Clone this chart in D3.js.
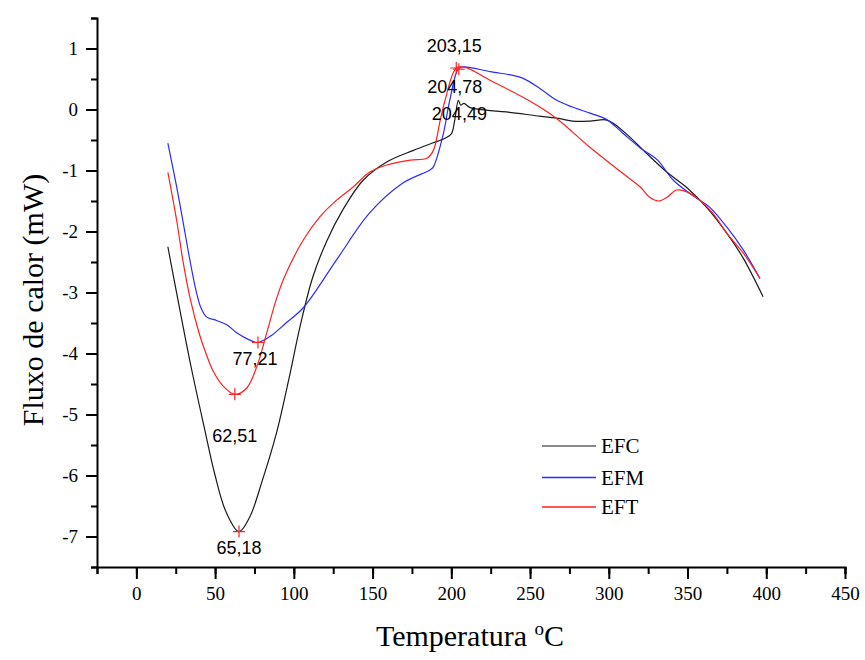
<!DOCTYPE html>
<html>
<head>
<meta charset="utf-8">
<script src="https://cdn.jsdelivr.net/npm/d3@7"></script>
<style>
  body { margin: 0; background: #fff; }
  .axis path, .axis line { stroke: #000; stroke-width: 2px; }
  .axis text { font-family: "Liberation Serif", "Times New Roman", serif; font-size: 19px; fill: #000; }
  .peak { font-family: "Liberation Sans", Arial, sans-serif; font-size: 18px; fill: #000; }
</style>
</head>
<body>
<div id="chart"></div>
<script>
// temperatures (°C) and heat flow (mW)
var efcT = [20, 27, 35, 43, 50, 57, 65.2, 72, 80, 89, 97, 104, 112, 121, 131, 144, 159, 176, 188, 196, 200, 202, 204.5, 206, 208, 212, 222, 235, 256, 269, 277, 288, 298, 303, 312, 322, 337, 350, 362, 375, 385, 398];
var efcV = [-2.25, -3.2, -4.25, -5.2, -6.0, -6.6, -6.92, -6.68, -6.08, -5.3, -4.4, -3.55, -2.75, -2.15, -1.65, -1.16, -0.86, -0.67, -0.55, -0.47, -0.4, -0.2, 0.15, 0.07, 0.1, 0.03, -0.01, -0.04, -0.11, -0.15, -0.19, -0.19, -0.17, -0.23, -0.42, -0.67, -1.03, -1.29, -1.6, -2.03, -2.42, -3.07];

var efmT = [20, 25.6, 29.5, 34, 38, 41, 44.5, 51, 57.4, 63.7, 72, 77.2, 86, 95, 106, 127, 148, 169, 186.5, 188.6, 195, 199, 204.8, 208.7, 224.6, 239, 245.6, 256, 267, 277, 288, 299, 309, 320, 331, 341, 356, 364, 375, 385.6, 396];
var efmV = [-0.55, -1.27, -1.82, -2.47, -2.98, -3.25, -3.4, -3.46, -3.53, -3.66, -3.78, -3.82, -3.7, -3.5, -3.25, -2.47, -1.7, -1.21, -0.99, -0.94, -0.39, 0.15, 0.68, 0.7, 0.62, 0.56, 0.51, 0.35, 0.15, 0.04, -0.06, -0.17, -0.39, -0.63, -0.83, -1.16, -1.46, -1.6, -1.93, -2.31, -2.77];

var eftT = [20, 25.6, 29.5, 34, 40, 44.5, 49, 55, 62.5, 70, 76.4, 82.7, 89, 95, 106, 116.5, 127, 137.7, 148, 159, 174, 184.5, 188.6, 193, 196, 203.2, 208.7, 224.6, 249, 267, 288, 309, 320, 326, 331.5, 337, 343, 349.6, 358, 366, 375, 385.6, 396];
var eftV = [-1.03, -1.82, -2.47, -3.08, -3.68, -4.02, -4.3, -4.53, -4.67, -4.57, -4.22, -3.67, -3.1, -2.69, -2.14, -1.76, -1.49, -1.27, -1.03, -0.91, -0.83, -0.8, -0.67, -0.17, 0.15, 0.68, 0.69, 0.48, 0.15, -0.15, -0.62, -1.05, -1.27, -1.44, -1.5, -1.44, -1.32, -1.35, -1.49, -1.7, -2.03, -2.36, -2.77];

var seriesNames = ["EFC", "EFM", "EFT"];
var seriesColors = ["#1a1a1a", "#2b2bff", "#ff2020"];
var legendColors = ["#8a8a8a", "#2b2bff", "#ff2020"];

// marked peaks: temperature, flow, label text
var peakT = [65.18, 62.51, 77.21, 203.15, 204.78, 204.49];
var peakV = [-6.92, -4.67, -3.82, 0.68, 0.66, 0.15];
var peakText = ["65,18", "62,51", "77,21", "203,15", "204,78", "204,49"];
var peakMarked = [true, true, true, true, true, false];

var xTicks = d3.range(0, 451, 50);
var yTicks = d3.range(-7, 2, 1);

var width = 865, height = 660;
var margins = {top: 18, left: 97, right: 20, bottom: 93};

var x = d3.scaleLinear().domain([-25, 450]).range([margins.left, width - margins.right]);
var y = d3.scaleLinear().domain([-7.5, 1.5]).range([height - margins.bottom, margins.top]);

var plainNum = function (d) { return String(d); };   // hyphen minus like the original

var svg = d3.select("#chart").append("svg")
    .attr("width", width)
    .attr("height", height);

// minor ticks first, majors over them
svg.append("g")
    .attr("class", "axis")
    .attr("transform", "translate(0," + y(-7.5) + ")")
    .call(d3.axisBottom(x).tickValues(d3.range(-25, 451, 25)).tickSize(7).tickFormat(""));
svg.append("g")
    .attr("class", "axis")
    .attr("transform", "translate(0," + y(-7.5) + ")")
    .call(d3.axisBottom(x).tickValues(xTicks).tickSize(12).tickPadding(8).tickFormat(plainNum))
    .select(".domain").remove();

svg.append("g")
    .attr("class", "axis")
    .attr("transform", "translate(" + x(-25) + ",0)")
    .call(d3.axisLeft(y).tickValues(d3.range(-7.5, 1.51, 0.5)).tickSize(6).tickFormat(""));
svg.append("g")
    .attr("class", "axis")
    .attr("transform", "translate(" + x(-25) + ",0)")
    .call(d3.axisLeft(y).tickValues(yTicks).tickSize(11).tickPadding(8).tickFormat(plainNum))
    .select(".domain").remove();

var line = d3.line()
    .x(function (d) { return x(d[0]); })
    .y(function (d) { return y(d[1]); })
    .curve(d3.curveCatmullRom.alpha(0.5));

var allT = [efcT, efmT, eftT], allV = [efcV, efmV, eftV];

svg.append("g").selectAll("path.curve")
    .data([0, 1, 2])
    .enter().append("path")
    .attr("class", "curve")
    .attr("fill", "none")
    .attr("stroke", function (i) { return seriesColors[i]; })
    .attr("stroke-width", 1.2)
    .attr("d", function (i) {
        return line(allT[i].map(function (t, j) { return [t, allV[i][j]]; }));
    });

// red cross markers
var marks = svg.append("g");
peakT.forEach(function (t, i) {
    if (!peakMarked[i]) return;
    var px = x(t), py = y(peakV[i]), s = 6;
    marks.append("path")
        .attr("d", "M" + (px - s) + "," + py + "H" + (px + s) + "M" + px + "," + (py - s) + "V" + (py + s))
        .attr("stroke", "#ff2020")
        .attr("stroke-width", 1.2);
});

// peak labels, offsets from the marker point
var labelDx = [0, 0, -3, -2, -4, 1];
var labelDy = [22, 48, 22, -16, 24, 20];
svg.append("g").selectAll("text.peak")
    .data(peakText)
    .enter().append("text")
    .attr("class", "peak")
    .attr("text-anchor", "middle")
    .attr("x", function (d, i) { return x(peakT[i]) + labelDx[i]; })
    .attr("y", function (d, i) { return y(peakV[i]) + labelDy[i]; })
    .text(function (d) { return d; });

// legend
var legend = svg.append("g").attr("transform", "translate(542,446)");
seriesNames.forEach(function (name, i) {
    var ly = [0, 31.5, 61][i];
    legend.append("line")
        .attr("x1", 0).attr("x2", 54)
        .attr("y1", ly).attr("y2", ly)
        .attr("stroke", legendColors[i])
        .attr("stroke-width", i === 0 ? 2 : 1.3);
    legend.append("text")
        .attr("x", 59).attr("y", ly + 7)
        .style("font-family", "'Liberation Serif', 'Times New Roman', serif")
        .style("font-size", "21px")
        .text(name);
});

// axis titles
var xTitle = svg.append("text")
    .attr("x", 470).attr("y", 646)
    .attr("text-anchor", "middle")
    .style("font-family", "'Liberation Serif', 'Times New Roman', serif")
    .style("font-size", "30px");
xTitle.append("tspan").text("Temperatura ");
xTitle.append("tspan").attr("dy", -11).style("font-size", "19px").text("o");
xTitle.append("tspan").attr("dy", 11).text("C");

svg.append("text")
    .attr("transform", "translate(43,300) rotate(-90)")
    .attr("text-anchor", "middle")
    .style("font-family", "'Liberation Serif', 'Times New Roman', serif")
    .style("font-size", "30px")
    .text("Fluxo de calor (mW)");
</script>
</body>
</html>
